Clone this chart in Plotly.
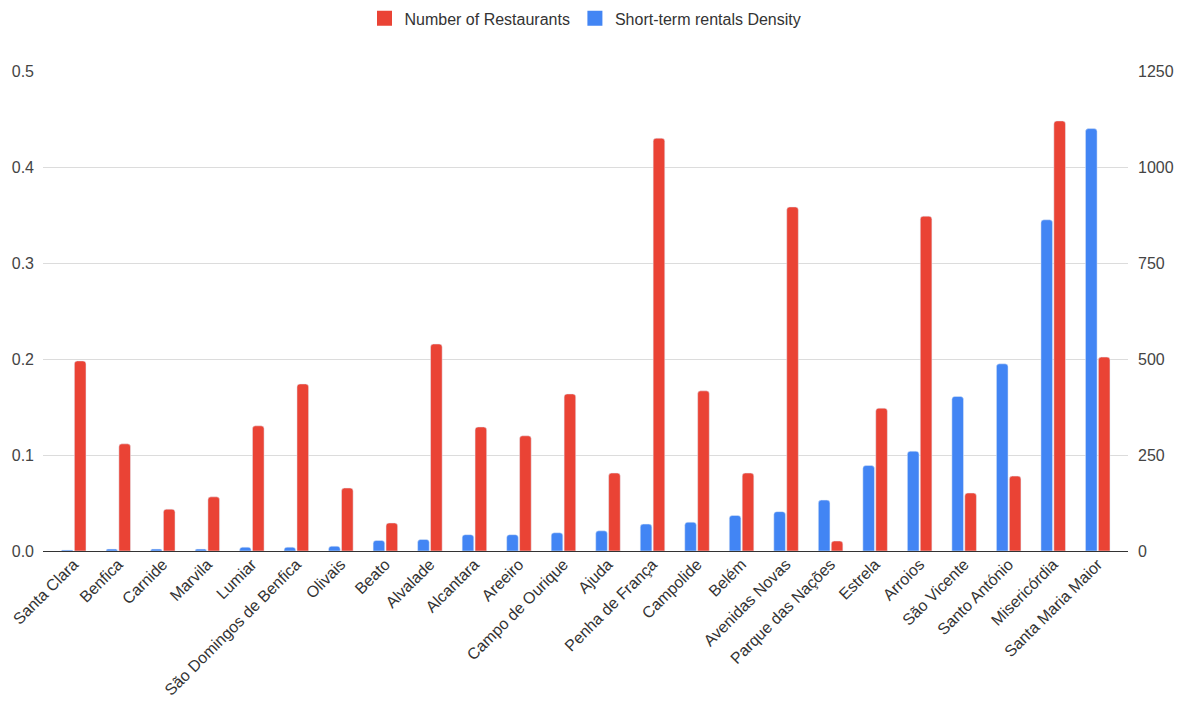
import plotly.graph_objects as go

neighbourhoods = [
    "Santa Clara", "Benfica", "Carnide", "Marvila", "Lumiar",
    "São Domingos de Benfica", "Olivais", "Beato", "Alvalade", "Alcantara",
    "Areeiro", "Campo de Ourique", "Ajuda", "Penha de França", "Campolide",
    "Belém", "Avenidas Novas", "Parque das Nações", "Estrela", "Arroios",
    "São Vicente", "Santo António", "Misericórdia", "Santa Maria Maior",
]

rental_density = [
    0.001, 0.002, 0.002, 0.002, 0.004,
    0.004, 0.005, 0.011, 0.012, 0.017,
    0.017, 0.019, 0.021, 0.028, 0.030,
    0.037, 0.041, 0.053, 0.089, 0.104,
    0.161, 0.195, 0.345, 0.440,
]

restaurants = [
    495, 279, 109, 141, 326,
    435, 164, 73, 539, 323,
    300, 409, 203, 1075, 417,
    203, 896, 26, 372, 872,
    151, 195, 1120, 505,
]

left_ticks = [0, 0.1, 0.2, 0.3, 0.4, 0.5]
left_tick_text = ["0.0", "0.1", "0.2", "0.3", "0.4", "0.5"]
right_ticks = [0, 250, 500, 750, 1000, 1250]

BLUE = "#4285F4"
RED = "#EA4335"
FONT = "Liberation Sans, Arial, sans-serif"

fig = go.Figure()
fig.add_trace(go.Bar(
    x=neighbourhoods, y=rental_density, name="Short-term rentals Density",
    marker=dict(color=BLUE, cornerradius=3), yaxis="y", offsetgroup="a",
    showlegend=False,
))
fig.add_trace(go.Bar(
    x=neighbourhoods, y=restaurants, name="Number of Restaurants",
    marker=dict(color=RED, cornerradius=3), yaxis="y2", offsetgroup="b",
    showlegend=False,
))

# square legend swatches
for name, color in [("Number of Restaurants", RED), ("Short-term rentals Density", BLUE)]:
    fig.add_trace(go.Scatter(
        x=[None], y=[None], mode="markers", name=name,
        marker=dict(symbol="square", size=15, color=color),
        showlegend=True,
    ))

fig.update_layout(
    width=1185, height=709,
    paper_bgcolor="white", plot_bgcolor="white",
    font=dict(family=FONT, size=16, color="#444"),
    barmode="group", bargap=0.42, bargroupgap=0.1,
    margin=dict(l=43, r=57, t=71, b=158),
    legend=dict(orientation="h", x=0.5, xanchor="center", y=0.998, yanchor="top",
                yref="container", font=dict(size=16, color="#333"),
                itemwidth=30, traceorder="normal"),
    xaxis=dict(tickangle=-45, showgrid=False, ticks="", showline=False,
               range=[-0.69, 23.68], automargin=False,
               tickfont=dict(size=16, color="#333")),
    yaxis=dict(range=[0, 0.5], tickvals=left_ticks, ticktext=left_tick_text,
               showgrid=True, gridcolor="#dcdcdc", gridwidth=1,
               zeroline=True, zerolinecolor="#333", zerolinewidth=1,
               automargin=False,
               ticks="", tickfont=dict(size=16, color="#444"), ticklabelstandoff=8),
    yaxis2=dict(range=[0, 1250], tickvals=right_ticks, overlaying="y", side="right",
                showgrid=False, zeroline=False, ticks="", automargin=False,
                tickfont=dict(size=16, color="#444"), ticklabelstandoff=9),
)

fig.write_html("out.html")
